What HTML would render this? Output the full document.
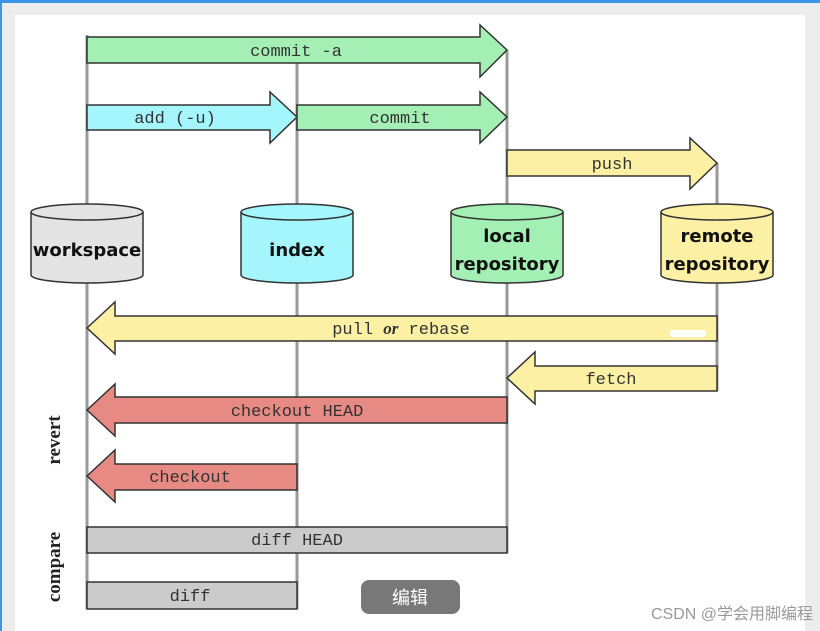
<!DOCTYPE html>
<html><head><meta charset="utf-8"><style>
html,body{margin:0;padding:0;width:820px;height:631px;overflow:hidden;background:#ededed}
svg{display:block}
.m{font-family:"Liberation Mono",monospace;font-size:17px;fill:#333;text-anchor:middle}
.s{font-family:"DejaVu Sans","Liberation Sans",sans-serif;font-weight:bold;font-size:18px;fill:#111;text-anchor:middle}
.r{font-family:"Liberation Serif",serif;font-weight:bold;font-size:19px;fill:#222;text-anchor:middle}
</style></head><body>
<svg width="820" height="631" viewBox="0 0 820 631">
<rect x="0" y="0" width="820" height="631" fill="#ededed"/>
<rect x="0" y="0" width="820" height="3" fill="#3f96e8"/>
<rect x="0" y="0" width="2" height="631" fill="#3f96e8"/>
<rect x="15" y="15" width="790" height="616" fill="#fff"/>
<g stroke="#999" stroke-width="3">
<line x1="87" y1="35" x2="87" y2="609"/>
<line x1="297" y1="60" x2="297" y2="609"/>
<line x1="507" y1="50" x2="507" y2="553"/>
<line x1="717" y1="163" x2="717" y2="391"/>
</g>
<g stroke="#333" stroke-width="1.5">
<polygon fill="#a4f0b4" points="87,37 480,37 480,25 507,50 480,77 480,63 87,63"/>
<polygon fill="#a4f6fc" points="87,105 270,105 270,92 297,117 270,143 270,130 87,130"/>
<polygon fill="#a4f0b4" points="297,105 480,105 480,92 507,117 480,143 480,130 297,130"/>
<polygon fill="#fcf0a4" points="507,150 690,150 690,138 717,163 690,189 690,176 507,176"/>
<polygon fill="#fcf0a4" points="87,328 115,302 115,316 717,316 717,341 115,341 115,354"/>
<polygon fill="#fcf0a4" points="507,378 535,352 535,366 717,366 717,391 535,391 535,404"/>
<polygon fill="#e88a84" points="87,410 115,384 115,397 507,397 507,423 115,423 115,436"/>
<polygon fill="#e88a84" points="87,476 115,450 115,464 297,464 297,490 115,490 115,502"/>
<rect x="87" y="527" width="420" height="26" fill="#cbcbcb"/>
<rect x="87" y="582" width="210" height="27" fill="#cbcbcb"/>
</g>
<rect x="670" y="330" width="36" height="7" rx="3" fill="#fff"/>
<g class="m">
<text x="296" y="56">commit -a</text>
<text x="175" y="123">add (-u)</text>
<text x="400" y="123">commit</text>
<text x="612" y="169">push</text>
<text x="401" y="334">pull <tspan font-family="Liberation Serif" font-style="italic" font-weight="bold">or</tspan> rebase</text>
<text x="611" y="384">fetch</text>
<text x="297" y="416">checkout HEAD</text>
<text x="190" y="482">checkout</text>
<text x="297" y="545">diff HEAD</text>
<text x="190" y="601">diff</text>
</g>
<g stroke="#333" stroke-width="1.5">
<path d="M31,212 V275 A56,8 0 0 0 143,275 V212" fill="#e4e4e4"/><ellipse cx="87" cy="212" rx="56" ry="8" fill="#e4e4e4"/>
<path d="M241,212 V275 A56,8 0 0 0 353,275 V212" fill="#a4f6fc"/><ellipse cx="297" cy="212" rx="56" ry="8" fill="#a4f6fc"/>
<path d="M451,212 V275 A56,8 0 0 0 563,275 V212" fill="#a4f0b4"/><ellipse cx="507" cy="212" rx="56" ry="8" fill="#a4f0b4"/>
<path d="M661,212 V275 A56,8 0 0 0 773,275 V212" fill="#fcf0a4"/><ellipse cx="717" cy="212" rx="56" ry="8" fill="#fcf0a4"/>
</g>
<g class="s">
<text x="87" y="256">workspace</text>
<text x="297" y="256">index</text>
<text x="507" y="242">local</text>
<text x="507" y="270">repository</text>
<text x="717" y="242">remote</text>
<text x="717" y="270">repository</text>
</g>
<text class="r" transform="translate(60,440) rotate(-90)">revert</text>
<text class="r" transform="translate(60,567) rotate(-90)">compare</text>
<rect x="361" y="580" width="99" height="34" rx="8" fill="#787878"/>
<text x="410" y="604" font-family="'Noto Sans CJK SC',sans-serif" font-size="18" fill="#fff" text-anchor="middle">编辑</text>
<text x="813" y="619" font-family="'Liberation Sans','Noto Sans CJK SC',sans-serif" font-size="16" fill="#999" text-anchor="end">CSDN @学会用脚编程</text>
</svg>
</body></html>
